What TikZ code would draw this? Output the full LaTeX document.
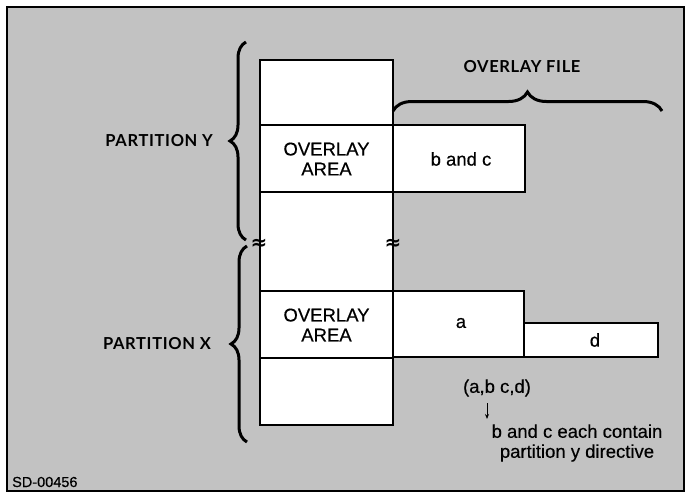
\documentclass[tikz,border=0pt]{standalone}
\usepackage{fontspec}
\setmainfont{Liberation Sans}[FakeBold=0.4]
\newfontfamily\labelfont[LetterSpace=4]{Lato}
\newfontfamily\markfont{DejaVu Sans}
\usetikzlibrary{decorations.pathreplacing,arrows.meta}
\definecolor{bggray}{gray}{0.76}
\tikzset{
  x=1pt,y=-1pt,
  membox/.style={draw=black,line width=1.7pt,fill=white},
  boxtext/.style={font=\fontsize{18.5}{20}\selectfont,align=center,inner sep=0pt},
  partlabel/.style={font=\labelfont\bfseries\fontsize{16.5}{18}\selectfont,inner sep=0pt},
  bigbrace/.style={draw=black,line width=3pt,decorate,decoration={brace,amplitude=#1,aspect=0.5}},
  breakmark/.style={font=\markfont\bfseries\fontsize{20}{20}\selectfont,inner sep=0pt}
}
\begin{document}
\begin{tikzpicture}
\useasboundingbox (0,0) rectangle (685,493);
\fill[white] (0,0) rectangle (685,493);
\fill[bggray] (7,7) rectangle (684,491);
\draw[line width=1.4pt] (7,7) rectangle (684,491);

% column
\draw[membox] (260,60) rectangle (393,425);
\draw[membox] (260,125) rectangle (393,192);
\draw[membox] (260,291) rectangle (393,358);
\node[boxtext] (ovy) at (326.5,159) {OVERLAY\\AREA};
\node[boxtext] (ovx) at (326.5,325) {OVERLAY\\AREA};

% overlay file boxes
\draw[membox] (393,125) rectangle (525,192);
\node[boxtext] (bc) at (461,159) {b and c};
\draw[membox] (393,291) rectangle (524,357);
\node[boxtext] (a) at (461,323) {a};
\draw[membox] (524,323) rectangle (658,357);
\node[boxtext] (d) at (595,340) {d};

% break marks
\node[breakmark] (brkL) at (259,244) {≈};
\node[breakmark] (brkR) at (393,244) {≈};

% braces
\coordinate (yb) at (246,240);
\coordinate (yt) at (246,42);
\draw[bigbrace=16] (yb) -- (yt);
\coordinate (xb) at (247,442);
\coordinate (xt) at (247,246);
\draw[bigbrace=16] (xb) -- (xt);
\coordinate (fl) at (393,111);
\coordinate (fr) at (662,111);
\draw[bigbrace=19] (fl) -- (fr);

% labels
\node[partlabel,anchor=east] (py) at (213,141) {PARTITION Y};
\node[partlabel,anchor=east] (px) at (211,344) {PARTITION X};
\node[partlabel] (of) at (522,67) {OVERLAY FILE};

% note
\node[boxtext] (abcd) at (497,388) {(a,b c,d)};
\node[boxtext] (note) at (577,443) {b and c each contain\\partition y directive};
\coordinate (arrS) at (487,403);
\coordinate (arrE) at (487,419);
\draw[line width=1pt,-{Stealth[length=5pt,width=4pt]}] (arrS) -- (arrE);

\node[font=\fontsize{14.5}{14}\selectfont,anchor=west,inner sep=0pt] (sd) at (12,482) {SD-00456};
\end{tikzpicture}
\end{document}
